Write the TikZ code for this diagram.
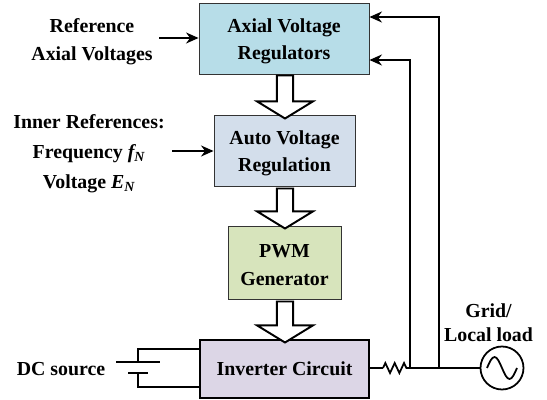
\documentclass[tikz,border=0pt]{standalone}
\usepackage{fontspec}
\setmainfont{Liberation Serif}
\usetikzlibrary{arrows.meta,shapes.arrows,decorations.pathmorphing}
\definecolor{axialblue}{HTML}{B7DDE8}
\definecolor{autoblue}{HTML}{D3DEEB}
\definecolor{pwmgreen}{HTML}{D7E4BC}
\definecolor{inverterpurple}{HTML}{DCD6E6}
\tikzset{
  label text/.style={font=\fontsize{11.3pt}{15.9pt}\selectfont\bfseries, align=center, inner sep=0pt},
  block/.style={draw=black!80, line width=0.5pt, label text, inner sep=0pt},
  wire/.style={line width=1pt},
  signal/.style={wire, -{Stealth[length=0.25cm,width=0.22cm]}},
  flow/.style={draw=black, fill=white, line width=1.1pt, single arrow, shape border rotate=270,
    minimum width=1.12cm, minimum height=0.86cm, single arrow head extend=0.37cm,
    single arrow tip angle=117, inner sep=0.134cm}
}
\begin{document}
\begin{tikzpicture}
  \useasboundingbox (0.00,0.00) rectangle (10.94,-8.00);
  % Blocks
  \node[block, fill=axialblue, minimum width=3.40cm, minimum height=1.42cm] (axial) at (5.68,-0.77) {\rule{0pt}{11pt}Axial Voltage\\Regulators};
  \node[block, fill=autoblue, minimum width=2.82cm, minimum height=1.42cm] (auto) at (5.69,-3.01) {\rule{0pt}{11pt}Auto Voltage\\Regulation};
  \node[block, fill=pwmgreen, minimum width=2.26cm, minimum height=1.46cm] (pwm) at (5.69,-5.25) {\rule{0pt}{10pt}PWM\\Generator};
  \node[block, draw=black, line width=1pt, fill=inverterpurple, minimum width=3.38cm, minimum height=1.16cm] (inverter) at (5.69,-7.38) {Inverter Circuit};
  % Hollow arrows between the blocks
  \node[flow] (flow1) at (5.70,-1.89) {};
  \node[flow, minimum height=0.80cm] (flow2) at (5.70,-4.12) {};
  \node[flow, minimum height=0.82cm] (flow3) at (5.70,-6.39) {};
  % Text labels
  \node[label text] (refaxial) at (1.84,-0.84) {Reference\\Axial Voltages};
  \node[label text, font=\fontsize{11.3pt}{17pt}\selectfont\bfseries] (inner) at (1.78,-3.08) {Inner References:\\Frequency {\itshape f}\textsubscript{\itshape N}\\Voltage {\itshape E}\textsubscript{\itshape N}};
  \node[label text] (dclabel) at (1.22,-7.38) {DC source};
  \node[label text, font=\fontsize{11.3pt}{13.5pt}\selectfont\bfseries] (gridlabel) at (9.77,-6.46) {Grid/\\Local load};
  % Free ends of the wires
  \coordinate (refstart) at (3.18,-0.76);
  \coordinate (innerstart) at (3.44,-3.02);
  \coordinate (res1) at (7.66,-7.36);
  \coordinate (res2) at (8.22,-7.36);
  \coordinate (tap1) at (8.20,-7.36);
  \coordinate (tap2) at (8.78,-7.36);
  \coordinate (fb1) at (3.40,-0.34);
  \coordinate (fb2) at (3.40,-1.20);
  % Grid source
  \node[draw=black, circle, line width=1pt, minimum size=0.86cm, inner sep=0pt] (source) at (10.04,-7.36) {};
  \draw[wire] ([xshift=-0.30cm]source.center) sin +(0.15,0.22) cos +(0.15,-0.22) sin +(0.15,-0.22) cos +(0.15,0.22);
  % Draw the signal wires
  \draw[signal] (refstart) -- (refstart -| axial.west);
  \draw[signal] (innerstart) -- (innerstart -| auto.west);
  \draw[signal] (tap2) -- (tap2 |- fb1) -- (fb1 -| axial.east);
  \draw[signal] (tap1) -- (tap1 |- fb2) -- (fb2 -| axial.east);
  % Draw the output line
  \draw[wire] (inverter.east |- res1) -- (res1);
  \draw[wire, decorate, decoration={zigzag, segment length=0.187cm, amplitude=0.10cm}] (res1) -- (res2);
  \draw[wire] (res2) -- (source.west);
  % Draw the battery
  \coordinate (plate1) at (2.76,-7.24);
  \coordinate (plate2) at (2.76,-7.46);
  \draw[wire] (plate1) -- (2.76,-6.98) -- (2.76,-6.98 -| inverter.west);
  \draw[wire] (plate2) -- (2.76,-7.74) -- (2.76,-7.74 -| inverter.west);
  \draw[wire] (2.32,-7.24) -- (3.20,-7.24);
  \draw[wire] (2.56,-7.46) -- (2.96,-7.46);
\end{tikzpicture}
\end{document}
